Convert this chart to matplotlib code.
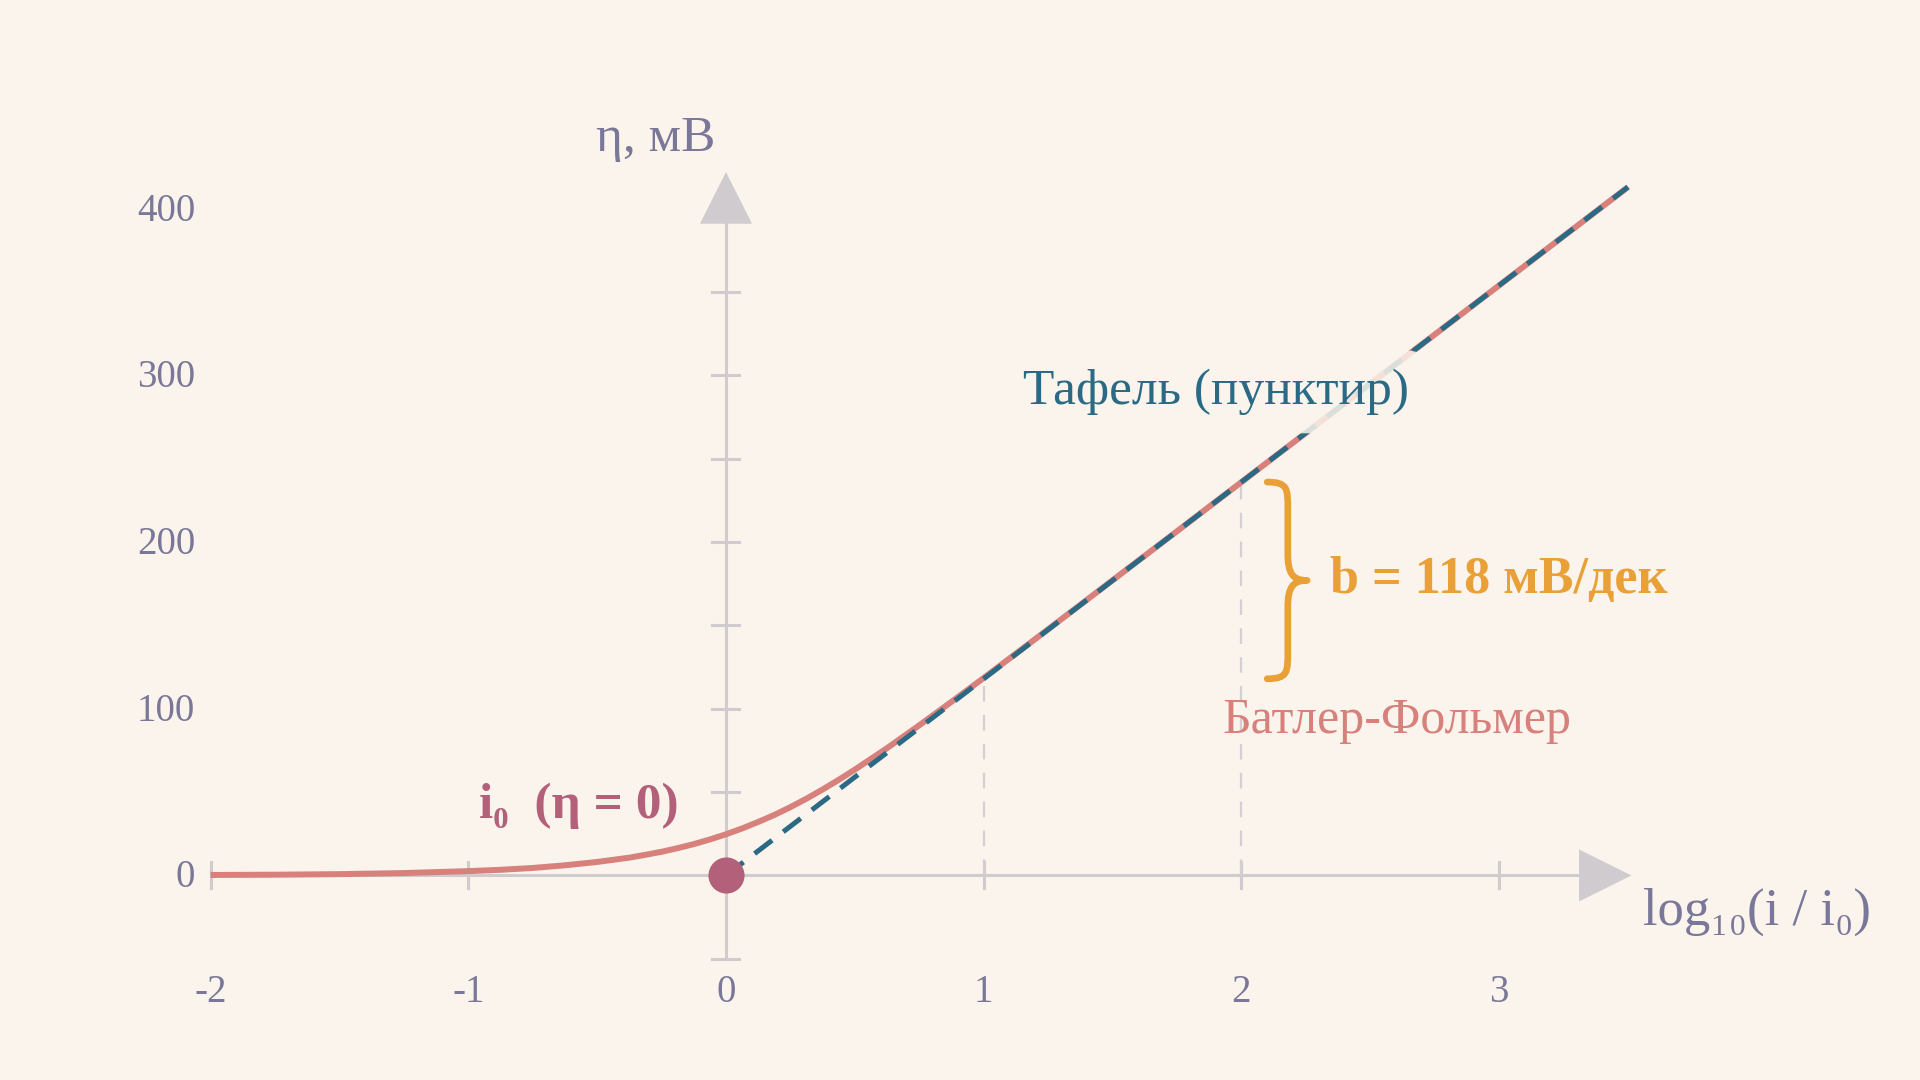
import numpy as np
import matplotlib.pyplot as plt
from matplotlib.path import Path
from matplotlib.patches import PathPatch

# --- data ---
log_ratio = [-2.0, -1.75, -1.5, -1.25, -1.0, -0.875, -0.75, -0.625, -0.5, -0.375,
             -0.3125, -0.25, -0.1875, -0.125, -0.0625, 0.0, 0.0625, 0.125, 0.1875,
             0.25, 0.3125, 0.375, 0.4375, 0.5, 0.625, 0.75, 0.875, 1.0, 1.125,
             1.25, 1.5, 1.75, 2.0, 2.5, 3.0, 3.5]
eta_bv = [0.3, 0.46, 0.8, 1.44, 2.6, 3.4, 4.5, 6.1, 8.1, 10.7,
          12.4, 14.2, 16.4, 18.8, 21.6, 24.7, 28.2, 32.1, 36.3,
          41.0, 46.1, 51.6, 57.4, 63.5, 76.4, 90.1, 104.2, 118.5, 133.1,
          147.7, 177.1, 206.5, 236.0, 295.0, 354.0, 413.0]

tafel_x = [0.0, 3.5]
tafel_eta = [0.0, 413.0]
b_slope = 118  # mV/dec

x_ticks = [-2, -1, 0, 1, 2, 3]
y_ticks = [0, 100, 200, 300, 400]
y_minor = [-50, 50, 100, 150, 200, 250, 300, 350]
guide_x = [1, 2]

# colours
BG = '#faf4ec'
AXC = '#cfcbce'
TXT = '#7a7799'
BV = '#d8807c'
TAF = '#2a6a84'
DOT = '#b3607a'
ORG = '#e9a036'

plt.rcParams['font.family'] = ['Liberation Serif', 'DejaVu Serif']

fig = plt.figure(figsize=(19.2, 10.8), dpi=100, facecolor=BG)
ax = fig.add_axes([0, 0, 1, 1])
ax.set_facecolor(BG)
ax.set_xlim(-2.817, 4.633)
ax.set_ylim(-122.7, 525.2)
ax.axis('off')

# pixel -> data helpers for decoration sizes
dx = 1 / 257.8   # x units per pixel
dy = 100 / 166.7  # mV per pixel

# axes lines
ax.plot([-2, 3.32], [0, 0], color=AXC, lw=2.2, zorder=1, solid_capstyle='butt')
ax.plot([0, 0], [-50, 392], color=AXC, lw=2.2, zorder=1, solid_capstyle='butt')
ax.fill([3.31, 3.513, 3.31], [26 * dy, 0, -26 * dy], color=AXC, lw=0, zorder=1)
ax.fill([-26 * dx, 0, 26 * dx], [391, 422, 391], color=AXC, lw=0, zorder=1)

# ticks
for xt in x_ticks:
    if xt != 0:
        ax.plot([xt, xt], [-13 * dy, 13 * dy], color=AXC, lw=2.2, zorder=1)
    ax.text(xt, -70.5, str(xt), ha='center', va='center', fontsize=28, color=TXT)
for yt in y_minor:
    ax.plot([-13.5 * dx, 13.5 * dx], [yt, yt], color=AXC, lw=2.2, zorder=1)
for yt in y_ticks:
    ax.text(-2.06, yt - 1.5, str(yt), ha='right', va='center', fontsize=28, color=TXT)

# vertical guides
for gx in guide_x:
    ax.plot([gx, gx], [0, b_slope * gx], color='#d3cfd2', lw=1.6,
            dashes=(7, 6), zorder=1)

# curves
ax.plot(log_ratio, eta_bv, color=BV, lw=4.3, zorder=3, solid_capstyle='butt',
        solid_joinstyle='round')
ax.plot(tafel_x, tafel_eta, color=TAF, lw=3.6, dashes=(4.4, 2.8), zorder=4)
ax.plot([0], [0], 'o', color=DOT, ms=26, mec='none', zorder=6)

# brace b
top, bot = b_slope * 2, b_slope * 1
mid = (top + bot) / 2
xl, xm, xt2 = 2.10, 2.18, 2.255
verts = [(xl, top), (xm, top), (xm, top - 4), (xm, top - 16),
         (xm, mid + 16),
         (xm, mid + 4), (xm + 0.02, mid), (xt2, mid),
         (xm + 0.02, mid), (xm, mid - 4), (xm, mid - 16),
         (xm, bot + 16),
         (xm, bot + 4), (xm, bot), (xl, bot)]
codes = [Path.MOVETO, Path.CURVE4, Path.CURVE4, Path.CURVE4,
         Path.LINETO,
         Path.CURVE4, Path.CURVE4, Path.CURVE4,
         Path.CURVE4, Path.CURVE4, Path.CURVE4,
         Path.LINETO,
         Path.CURVE4, Path.CURVE4, Path.CURVE4]
ax.add_patch(PathPatch(Path(verts, codes), facecolor='none', edgecolor=ORG,
                       lw=4.8, capstyle='round', joinstyle='round', zorder=5))

# labels
box = dict(boxstyle='round,pad=0.35', facecolor=BG, edgecolor='none', alpha=0.85)
ax.text(-0.04, 442, 'η, мВ', ha='right', va='center', fontsize=37, color=TXT)
ax.text(3.557, -22, 'log₁₀(i / i₀)', ha='left', va='center', fontsize=38, color=TXT)
ax.text(1.90, 290, 'Тафель (пунктир)', ha='center', va='center', fontsize=37,
        color=TAF, bbox=box, zorder=7)
ax.text(2.343, 177, f'b = {b_slope} мВ/дек', ha='left', va='center', fontsize=37.5,
        fontweight='bold', color=ORG, zorder=7)
ax.text(1.928, 93, 'Батлер-Фольмер', ha='left', va='center', fontsize=36,
        color=BV, zorder=7)
ax.text(-0.96, 42, 'i₀  (η = 0)', ha='left', va='center', fontsize=37,
        fontweight='bold', color=DOT, zorder=7)

fig.savefig('out.png', dpi=100, facecolor=BG)
